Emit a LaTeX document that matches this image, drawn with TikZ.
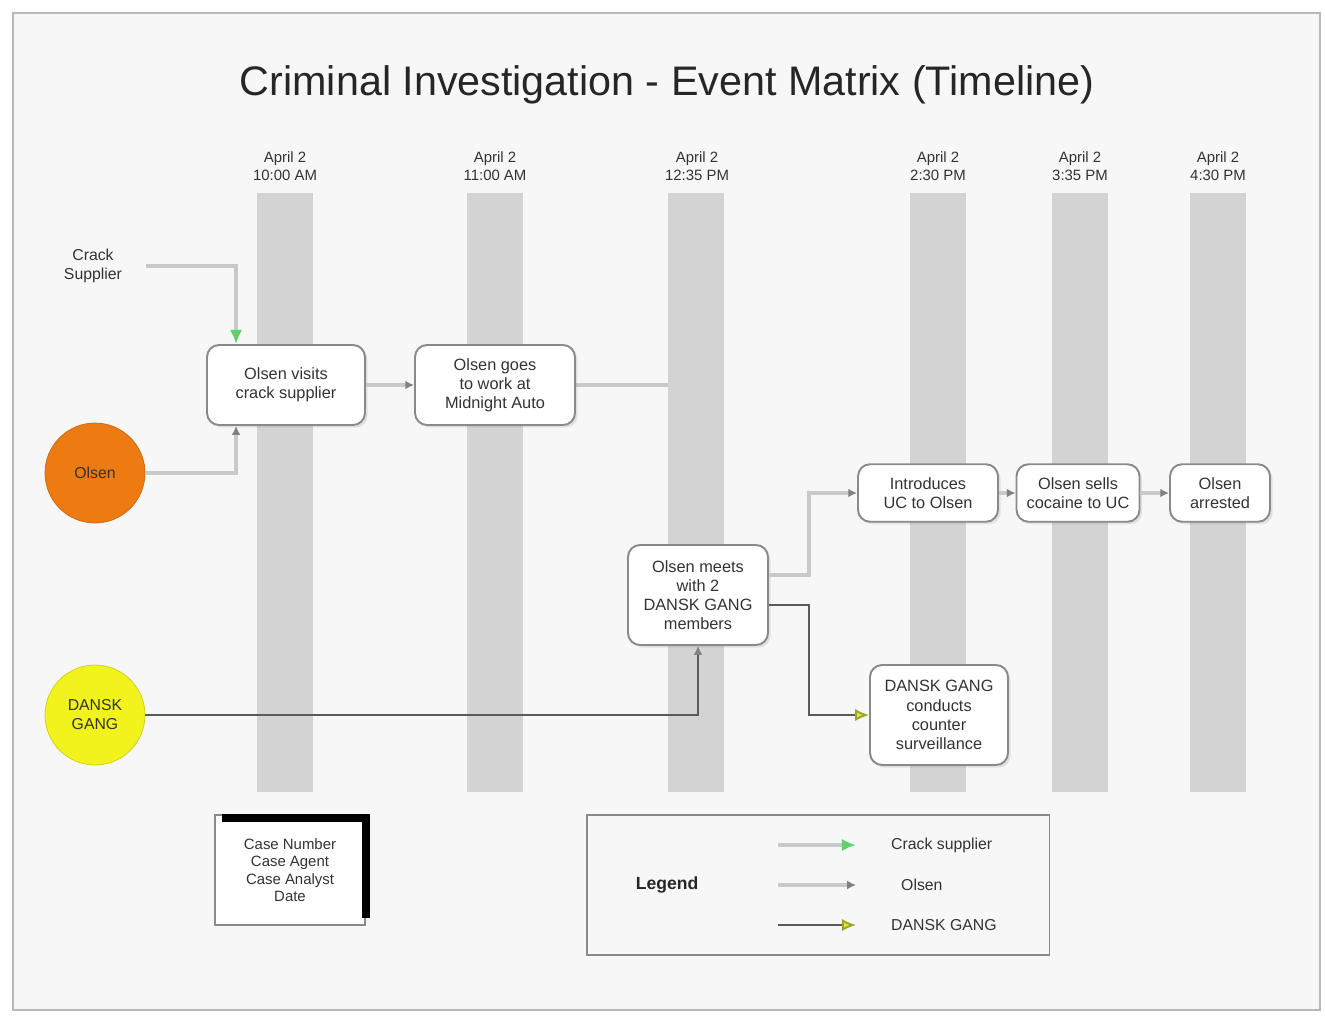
\documentclass[tikz,border=0pt]{standalone}
\usepackage{fontspec}
\setmainfont{Liberation Sans}
\usetikzlibrary{arrows.meta,calc,shadows}
\definecolor{pagebg}{HTML}{F7F7F7}
\definecolor{framec}{HTML}{B8B8B8}
\definecolor{barc}{HTML}{D3D3D3}
\definecolor{boxline}{HTML}{8A8A8A}
\definecolor{txt}{HTML}{333333}
\definecolor{olsenline}{HTML}{C9C9C9}
\definecolor{danskline}{HTML}{5A5A5A}
\definecolor{crackgreen}{HTML}{5ED36A}
\definecolor{danskarrow}{HTML}{D9E64A}
\definecolor{danskarrowd}{HTML}{9AA62A}
\definecolor{orangec}{HTML}{EE7A12}
\definecolor{yellowc}{HTML}{F2F21C}
\pgfdeclarelayer{bgzero}
\pgfdeclarelayer{bgone}
\pgfsetlayers{bgzero,bgone,main}
\tikzset{
  evbox/.style={draw=boxline, line width=1.1pt, fill=white, rounded corners=0.24cm,
    align=center, font=\fontsize{9.3}{10.9}\selectfont, text=txt, inner sep=2pt,
    drop shadow={opacity=0.18, shadow xshift=1.5pt, shadow yshift=-1.5pt}},
  hdr/.style={align=center, font=\fontsize{8.5}{10}\selectfont, text=txt},
  tbar/.style={fill=barc, draw=none},
  olsen/.style={draw=olsenline, line width=1.8pt, -{Latex[length=5pt,width=5pt,fill=gray,color=gray]}},
  crack/.style={draw=olsenline, line width=1.8pt, -{Latex[length=8pt,width=7pt,fill=crackgreen,color=crackgreen]}},
  dansk/.style={draw=danskline, line width=1.1pt, -{Latex[length=8pt,width=7pt,fill=danskarrow,color=danskarrowd]}},
  dansksmall/.style={draw=danskline, line width=1.1pt, -{Latex[length=5pt,width=5pt,fill=gray,color=gray]}},
  actor/.style={circle, minimum size=2.0cm, inner sep=0pt, align=center,
    font=\fontsize{9}{10.8}\selectfont, text=txt},
}
\begin{document}
\begin{tikzpicture}[x=0.02cm,y=-0.02cm]
\useasboundingbox (0,0) rectangle (1325,1015);
\begin{pgfonlayer}{bgzero}
\fill[white] (0,0) rectangle (1325,1015);
\draw[framec, line width=1.2pt, fill=pagebg] (13,13) rectangle (1320,1010);
\end{pgfonlayer}

\node[font=\fontsize{23.5}{27}\selectfont, text=black!85] (title) at (667,85) {Criminal Investigation - Event Matrix (Timeline)};

% timeline bars
\path[tbar] (257,193) rectangle (313,792);
\path[tbar] (467,193) rectangle (523,792);
\path[tbar] (668,193) rectangle (724,792);
\path[tbar] (910,193) rectangle (966,792);
\path[tbar] (1052,193) rectangle (1108,792);
\path[tbar] (1190,193) rectangle (1246,792);

\node[hdr] (h1) at (285,166) {April 2\\10:00 AM};
\node[hdr] (h2) at (495,166) {April 2\\11:00 AM};
\node[hdr] (h3) at (697,166) {April 2\\12:35 PM};
\node[hdr] (h4) at (938,166) {April 2\\2:30 PM};
\node[hdr] (h5) at (1080,166) {April 2\\3:35 PM};
\node[hdr] (h6) at (1218,166) {April 2\\4:30 PM};

% actors
\node[font=\fontsize{9}{10.8}\selectfont, text=txt, align=center] (cs) at (93,266) {Crack\\Supplier};
\node[actor, fill=orangec, draw=orangec!85!black] (ol) at (95,473) {Olsen};
\node[actor, fill=yellowc, draw=yellowc!85!black] (dg) at (95,715) {DANSK\\GANG};

% events
\node[evbox, minimum width=3.16cm, minimum height=1.6cm] (b1) at (286,385) {Olsen visits\\crack supplier};
\node[evbox, minimum width=3.2cm, minimum height=1.6cm] (b2) at (495,385) {Olsen goes\\to work at\\Midnight Auto};
\node[evbox, minimum width=2.8cm, minimum height=2.0cm] (b3) at (698,595) {Olsen meets\\with 2\\DANSK GANG\\members};
\node[evbox, minimum width=2.8cm, minimum height=1.15cm] (b4) at (928,493) {Introduces\\UC to Olsen};
\node[evbox, minimum width=2.46cm, minimum height=1.15cm] (b5) at (1078,493) {Olsen sells\\cocaine to UC};
\node[evbox, minimum width=2.0cm, minimum height=1.15cm] (b6) at (1220,493) {Olsen\\arrested};
\node[evbox, minimum width=2.76cm, minimum height=2.0cm] (b7) at (939,715) {DANSK GANG\\conducts\\counter\\surveillance};

% connectors
\draw[crack] ($(cs.east)+(18,0)$) -| ($(b1.north west)+(30,0)$);
\draw[olsen] (ol.east) -| ($(b1.south west)+(30,0)$);
\draw[olsen] (b1.east) -- (b2.west);
\begin{pgfonlayer}{bgone}
\draw[olsen] (b2.east) -| (b3.north);
\end{pgfonlayer}
\draw[olsen] ($(b3.east)+(0,-20)$) -- ++(40,0) |- (b4.west);
\draw[olsen] (b4.east) -- (b5.west);
\draw[olsen] (b5.east) -- (b6.west);
\draw[dansksmall] (dg.east) -| (b3.south);
\draw[dansk] ($(b3.east)+(0,10)$) -- ++(40,0) |- (b7.west);

% case box
\node[draw=boxline, line width=0.8pt, fill=white, align=center, font=\fontsize{8.5}{10}\selectfont, text=txt, minimum width=3.0cm, minimum height=2.2cm] (case) at (290,870) {Case Number\\Case Agent\\Case Analyst\\Date};
\draw[black, line width=4.5pt] ($(case.north west)+(8,4)$) -- ($(case.north east)+(0,4)$) -- ($(case.south east)+(0,-8)$);

% legend
\node[draw=boxline, line width=1.1pt, minimum width=9.26cm, minimum height=2.8cm] (leg) at (818,885) {};
\node[font=\bfseries\fontsize{10}{12}\selectfont, text=black!85] (legt) at (667,885) {Legend};
\coordinate (l1a) at (778,845); \coordinate (l1b) at (856,845);
\coordinate (l2a) at (778,885); \coordinate (l2b) at (856,885);
\coordinate (l3a) at (778,925); \coordinate (l3b) at (856,925);
\draw[crack] (l1a) -- (l1b);
\draw[olsen] (l2a) -- (l2b);
\draw[dansk] (l3a) -- (l3b);
\node[anchor=west, font=\fontsize{9}{10.8}\selectfont, text=txt] (lt1) at (885,845) {Crack supplier};
\node[anchor=west, font=\fontsize{9}{10.8}\selectfont, text=txt] (lt2) at (895,885) {Olsen};
\node[anchor=west, font=\fontsize{9}{10.8}\selectfont, text=txt] (lt3) at (885,925) {DANSK GANG};
\end{tikzpicture}
\end{document}
